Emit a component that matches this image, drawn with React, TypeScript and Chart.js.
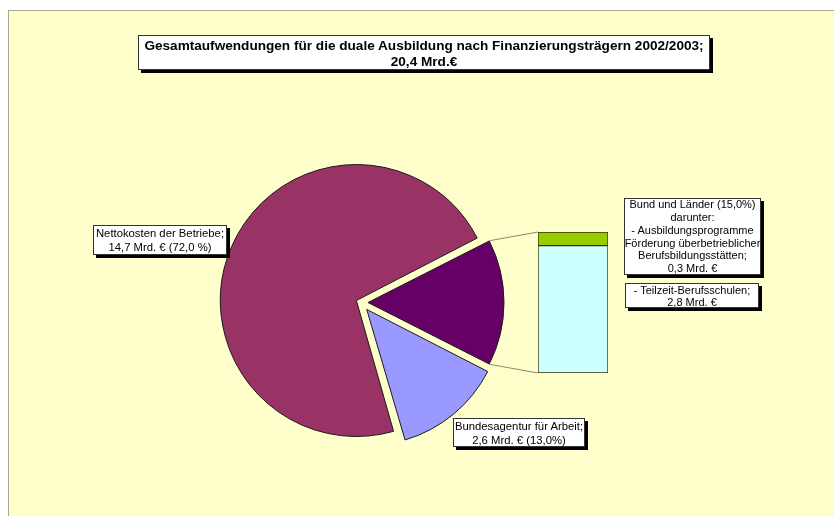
import React, { useEffect, useRef } from "react";
import { Chart, registerables } from "chart.js";

Chart.register(...registerables);

// ---- data ----
const pieLabels = ["Bund und Länder", "Bundesagentur für Arbeit", "Nettokosten der Betriebe"];
const piePercents = [15.0, 13.0, 72.0];
const pieAmounts = [3.1, 2.6, 14.7];
const pieColors = ["#660066", "#9999FF", "#993366"];
const pieExplode = [7, 9, 5]; // pixels each slice is pulled out

const barLabels = ["Teilzeit-Berufsschulen", "Ausbildungsprogramme Förderung überbetrieblicher Berufsbildungsstätten"];
const barValues = [2.8, 0.3];
const barColors = ["#CCFFFF", "#99CC00"];

const titleLines = ["Gesamtaufwendungen für die duale Ausbildung nach Finanzierungsträgern 2002/2003;", "20,4 Mrd.€"];

const W = 834;
const H = 516;
const R = 136;
const FONT = "'Liberation Sans', Arial, Helvetica, sans-serif";

const de = (v: number) => v.toFixed(1).replace(".", ",");

const boxStyle = (left: number, top: number, width: number, height: number): React.CSSProperties => ({
  position: "absolute",
  left,
  top,
  width,
  height,
  boxSizing: "border-box",
  background: "#ffffff",
  border: "1px solid #333",
  boxShadow: "3px 3px 0 #000",
  fontFamily: FONT,
  fontSize: 11,
  lineHeight: "12.8px",
  color: "#000",
  textAlign: "center",
  display: "flex",
  flexDirection: "column",
  justifyContent: "center",
  alignItems: "center",
  whiteSpace: "nowrap",
});

export default function App() {
  const pieRef = useRef<HTMLCanvasElement>(null);
  const barRef = useRef<HTMLCanvasElement>(null);

  useEffect(() => {
    // Chart.js draws arcs translated by offset/4 and enlarges the radius by
    // (offset/4)*(1 - sin(circumference)); keep the drawn radius at R.
    const fixRadius = {
      id: "fixRadius",
      beforeDatasetsDraw(chart: any) {
        chart.getDatasetMeta(0).data.forEach((el: any, i: number) => {
          const c = el.endAngle - el.startAngle;
          const fix = 1 - Math.sin(Math.min(Math.PI, c));
          el.outerRadius = R - pieExplode[i] * fix;
        });
      },
    };

    const pie = new Chart(pieRef.current!, {
      type: "pie",
      data: {
        labels: pieLabels,
        datasets: [
          {
            data: piePercents,
            backgroundColor: pieColors,
            borderColor: "#1a1a1a",
            borderWidth: 1,
            offset: pieExplode.map((o) => o * 4),
          } as any,
        ],
      },
      options: {
        responsive: false,
        animation: false,
        rotation: 63,
        radius: R,
        layout: { padding: { left: 0, right: 112, top: 89, bottom: 0 } },
        plugins: { legend: { display: false }, tooltip: { enabled: false }, title: { display: false } },
        events: [],
      } as any,
      plugins: [fixRadius],
    });

    const connectors = {
      id: "connectors",
      afterDatasetsDraw(chart: any) {
        const ctx = chart.ctx;
        const arc: any = pie.getDatasetMeta(0).data[0];
        const off = pieExplode[0];
        const mid = (arc.startAngle + arc.endAngle) / 2;
        const cx = arc.x + Math.cos(mid) * off;
        const cy = arc.y + Math.sin(mid) * off;
        const p1 = { x: cx + Math.cos(arc.startAngle) * R, y: cy + Math.sin(arc.startAngle) * R };
        const p2 = { x: cx + Math.cos(arc.endAngle) * R, y: cy + Math.sin(arc.endAngle) * R };
        const bottomBar: any = chart.getDatasetMeta(0).data[0];
        const topBar: any = chart.getDatasetMeta(1).data[0];
        const left = topBar.x - topBar.width / 2;
        ctx.save();
        ctx.strokeStyle = "#8a8a70";
        ctx.lineWidth = 1;
        ctx.beginPath();
        ctx.moveTo(p1.x, p1.y);
        ctx.lineTo(left, topBar.y);
        ctx.moveTo(p2.x, p2.y);
        ctx.lineTo(left, bottomBar.base);
        ctx.stroke();
        ctx.restore();
      },
    };

    const bar = new Chart(barRef.current!, {
      type: "bar",
      data: {
        labels: ["Bund und Länder"],
        datasets: barValues.map((v, i) => ({
          label: barLabels[i],
          data: [v],
          backgroundColor: barColors[i],
          borderColor: "#333300",
          borderWidth: 1,
          borderSkipped: false,
          barPercentage: 1,
          categoryPercentage: 1,
        })),
      },
      options: {
        responsive: false,
        animation: false,
        layout: { padding: { left: 538, right: W - 608, top: 232, bottom: H - 373 } },
        scales: {
          x: { display: false, stacked: true },
          y: { display: false, stacked: true, min: 0, max: barValues[0] + barValues[1] },
        },
        plugins: { legend: { display: false }, tooltip: { enabled: false } },
        events: [],
      } as any,
      plugins: [connectors],
    });

    return () => {
      bar.destroy();
      pie.destroy();
    };
  }, []);

  return (
    <div style={{ position: "fixed", left: 0, top: 0, width: W, height: H, background: "#fff", overflow: "hidden" }}>
      <div
        style={{
          position: "absolute",
          left: 8,
          top: 10,
          width: W - 8,
          height: H - 10,
          background: "#FFFFCC",
          borderTop: "1px solid #a8a890",
          borderLeft: "1px solid #a8a890",
          boxSizing: "border-box",
        }}
      />
      <canvas ref={pieRef} width={W} height={H} style={{ position: "absolute", left: 0, top: 0, width: W, height: H }} />
      <canvas ref={barRef} width={W} height={H} style={{ position: "absolute", left: 0, top: 0, width: W, height: H }} />

      <div style={{ ...boxStyle(138, 35, 572, 35), fontWeight: "bold", fontSize: 13.6, lineHeight: "16px", paddingTop: 3 }}>
        <div>{titleLines[0]}</div>
        <div>{titleLines[1]}</div>
      </div>

      <div style={{ ...boxStyle(93, 225, 134, 30), fontSize: 11.3, lineHeight: "14px" }}>
        <div>{pieLabels[2]};</div>
        <div>
          {de(pieAmounts[2])} Mrd. € ({de(piePercents[2])} %)
        </div>
      </div>

      <div style={{ ...boxStyle(453, 418, 132, 29), fontSize: 11.3, lineHeight: "14px" }}>
        <div>{pieLabels[1]};</div>
        <div>
          {de(pieAmounts[1])} Mrd. € ({de(piePercents[1])}%)
        </div>
      </div>

      <div style={boxStyle(624, 198, 137, 77)}>
        <div>
          {pieLabels[0]} ({de(piePercents[0])}%)
        </div>
        <div>darunter:</div>
        <div>- Ausbildungsprogramme</div>
        <div>Förderung überbetrieblicher</div>
        <div>Berufsbildungsstätten;</div>
        <div>{de(barValues[1])} Mrd. €</div>
      </div>

      <div style={{ ...boxStyle(625, 283, 134, 25), lineHeight: "12px" }}>
        <div>- {barLabels[0]};</div>
        <div>{de(barValues[0])} Mrd. €</div>
      </div>
    </div>
  );
}
